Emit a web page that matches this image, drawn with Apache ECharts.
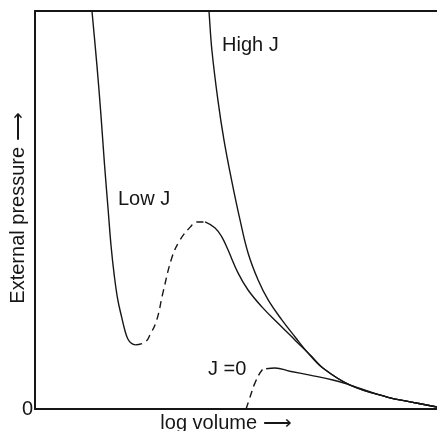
<!DOCTYPE html>
<html>
<head>
<meta charset="utf-8">
<title>External pressure vs log volume</title>
<script src="https://cdn.jsdelivr.net/npm/echarts@6/dist/echarts.min.js"></script>
<style>
  html, body { margin: 0; padding: 0; background: #fff; }
  #chart { width: 437px; height: 431px; }
</style>
</head>
<body>
<div id="chart"></div>
<script>
// curve points, as [log volume, pressure] on a 0..100 scale
const lowJStart = [
  [14.1, 101], [14.2, 99.7], [15.4, 86.4], [16.4, 73.9], [17.3, 61.3], [18.2, 50.0],
  [18.9, 41.2], [19.7, 33.7], [20.6, 27.4], [21.6, 22.9], [22.4, 19.6], [23.1, 17.6],
  [23.9, 16.6], [24.9, 16.1]
]
const lowJDashed = [
  [24.9, 16.1], [27.4, 16.8], [28.6, 18.6], [30.3, 22.4], [31.8, 29.1], [34.1, 38.2],
  [36.1, 42.5], [38.6, 45.7], [40.3, 47.0], [42.3, 47.0]
]
const lowJEnd = [
  [42.3, 47.0], [44.8, 45.5], [46.5, 43.2], [48.0, 40.0], [50.5, 34.2], [53.0, 29.9],
  [56.5, 25.6], [60.4, 21.6], [64.7, 17.3], [68.9, 13.1], [71.6, 10.3], [78.4, 6.0],
  [87.6, 3.0], [93.3, 1.8], [100, 0.5]
]
const highJ = [
  [43.2, 101], [43.3, 99.7], [44.0, 90.2], [45.5, 77.6], [47.0, 67.6], [48.9, 57.5],
  [51.0, 47.5], [53.0, 39.2], [55.5, 32.4], [58.0, 27.4], [61.4, 22.4], [64.7, 18.1],
  [67.9, 14.1], [71.6, 10.3], [78.4, 6.0], [87.6, 3.0], [93.3, 1.8], [100, 0.5]
]
const zeroJDashed = [
  [52.5, 0], [53.5, 3.0], [54.7, 6.5], [56.5, 9.8], [57.5, 10.1]
]
const zeroJSolid = [
  [57.5, 10.1], [59.7, 10.3], [63.4, 9.5], [68.4, 8.5], [74.1, 7.3], [78.4, 6.0],
  [87.6, 3.0], [93.3, 1.8], [100, 0.5]
]

const labels = [
  { text: 'High J', x: 222, y: 46 },
  { text: 'Low J', x: 118, y: 200 },
  { text: 'J =0', x: 208, y: 370 }
]

const ink = '#161616'
const font = '"Liberation Sans", Arial, sans-serif'

function curve(data, dashed) {
  return {
    type: 'line',
    data: data,
    smooth: 0.4,
    showSymbol: false,
    silent: true,
    clip: true,
    lineStyle: { color: ink, width: 1.4, type: dashed ? [7, 5] : 'solid' }
  }
}

const chart = echarts.init(document.getElementById('chart'))

chart.setOption({
  animation: false,
  grid: { left: 35, right: 0, top: 11, bottom: 22, containLabel: false, outerBoundsMode: 'none' },
  xAxis: [{
    type: 'value',
    min: 0,
    max: 100,
    name: 'log volume ⟶',
    nameLocation: 'middle',
    nameGap: 4,
    nameTextStyle: { color: ink, fontFamily: font, fontSize: 20, verticalAlign: 'top', padding: [0, 20, 0, 0] },
    axisLine: { show: true, onZero: false, lineStyle: { color: ink, width: 2 } },
    axisTick: { show: false },
    axisLabel: { show: false },
    splitLine: { show: false }
  }, {
    type: 'value',
    position: 'top',
    min: 0,
    max: 100,
    axisLine: { show: true, onZero: false, lineStyle: { color: ink, width: 2 } },
    axisTick: { show: false },
    axisLabel: { show: false },
    splitLine: { show: false }
  }],
  yAxis: {
    type: 'value',
    min: 0,
    max: 100,
    interval: 100,
    axisLine: { show: true, lineStyle: { color: ink, width: 2 } },
    axisTick: { show: false },
    axisLabel: {
      color: ink,
      fontFamily: font,
      fontSize: 20,
      margin: 2,
      formatter: v => (v === 0 ? '0' : '')
    },
    splitLine: { show: false }
  },
  graphic: [
    {
      // y axis title, drawn by hand so it can sit close to the axis
      type: 'text',
      x: 18,
      y: 208,
      rotation: Math.PI / 2,
      style: {
        text: 'External pressure ⟶',
        fill: ink,
        font: '20px ' + font,
        align: 'center',
        verticalAlign: 'middle'
      }
    }
  ].concat(labels.map(l => ({
    type: 'text',
    left: l.x,
    top: l.y - 11,
    style: { text: l.text, fill: ink, font: '20px ' + font }
  }))),
  series: [
    curve(lowJStart, false),
    curve(lowJDashed, true),
    curve(lowJEnd, false),
    curve(highJ, false),
    curve(zeroJDashed, true),
    curve(zeroJSolid, false)
  ]
})

window.addEventListener('resize', () => chart.resize())
</script>
</body>
</html>
